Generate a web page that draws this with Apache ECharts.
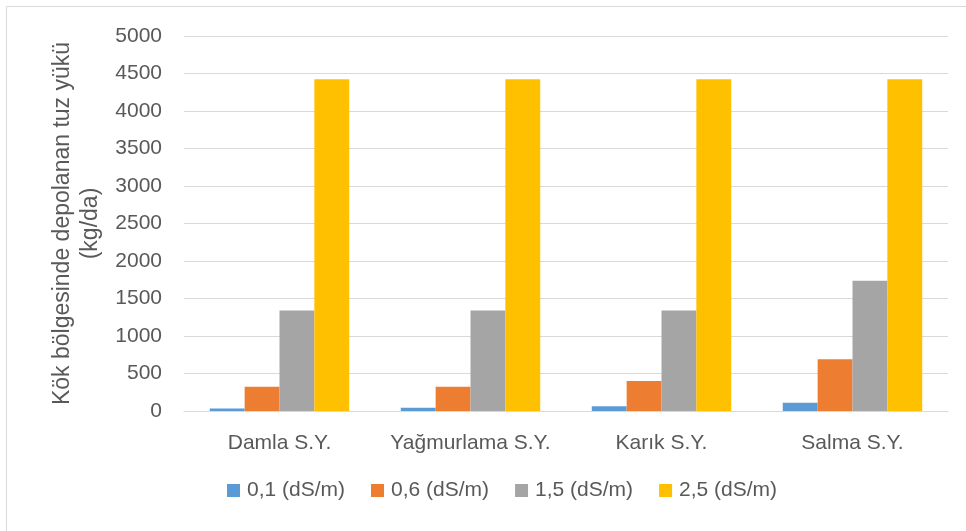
<!DOCTYPE html>
<html>
<head>
<meta charset="utf-8">
<script src="https://cdn.jsdelivr.net/npm/echarts@6/dist/echarts.min.js"></script>
<style>
html,body{margin:0;padding:0;background:#fff;}
#chart{width:966px;height:531px;}
</style>
</head>
<body>
<div id="chart"></div>
<script>
const categories = ['Damla S.Y.', 'Yağmurlama S.Y.', 'Karık S.Y.', 'Salma S.Y.'];
const seriesNames = ['0,1 (dS/m)', '0,6 (dS/m)', '1,5 (dS/m)', '2,5 (dS/m)'];
const ec01 = [35, 45, 62, 111];
const ec06 = [325, 322, 400, 690];
const ec15 = [1340, 1340, 1340, 1736];
const ec25 = [4425, 4425, 4425, 4425];
const yAxisName = 'Kök bölgesinde depolanan tuz yükü\n(kg/da)';
const colors = ['#5B9BD5', '#ED7D31', '#A5A5A5', '#FFC000'];

const FONT = 'Liberation Sans';
const TXT = '#595959';
const chart = echarts.init(document.getElementById('chart'));
const values = [ec01, ec06, ec15, ec25];
chart.setOption({
  animation: false,
  color: colors,
  textStyle: {fontFamily: FONT},
  graphic: [{
    type: 'rect',
    shape: {x: 6.5, y: 6.5, width: 1000, height: 600},
    style: {fill: 'none', stroke: '#d9d9d9', lineWidth: 1}
  }],
  grid: {left: 184, right: 18, top: 36, bottom: 120},
  legend: {
    left: 222, top: 475,
    icon: 'rect', itemWidth: 13, itemHeight: 13, itemGap: 26,
    textStyle: {color: TXT, fontSize: 21, fontFamily: FONT, padding: [0, 0, 0, 2]},
    data: seriesNames
  },
  xAxis: {
    type: 'category', data: categories,
    axisLine: {lineStyle: {color: '#d9d9d9'}},
    axisTick: {show: false},
    axisLabel: {color: TXT, fontSize: 21, margin: 22, interval: 0, fontFamily: FONT}
  },
  yAxis: {
    type: 'value', min: 0, max: 5000, interval: 500,
    name: yAxisName, nameLocation: 'middle', nameRotate: 90, nameGap: 74,
    nameTextStyle: {color: TXT, fontSize: 23, lineHeight: 28, fontFamily: FONT},
    axisLine: {show: false}, axisTick: {show: false},
    axisLabel: {color: TXT, fontSize: 21, margin: 22, fontFamily: FONT,
      formatter: v => String(v)},
    splitLine: {lineStyle: {color: '#d9d9d9', width: 1}}
  },
  series: seriesNames.map((n, i) => ({
    name: n, type: 'bar', data: values[i],
    barGap: '0%', barCategoryGap: '27%',
    itemStyle: {color: colors[i]}
  }))
});
</script>
</body>
</html>
